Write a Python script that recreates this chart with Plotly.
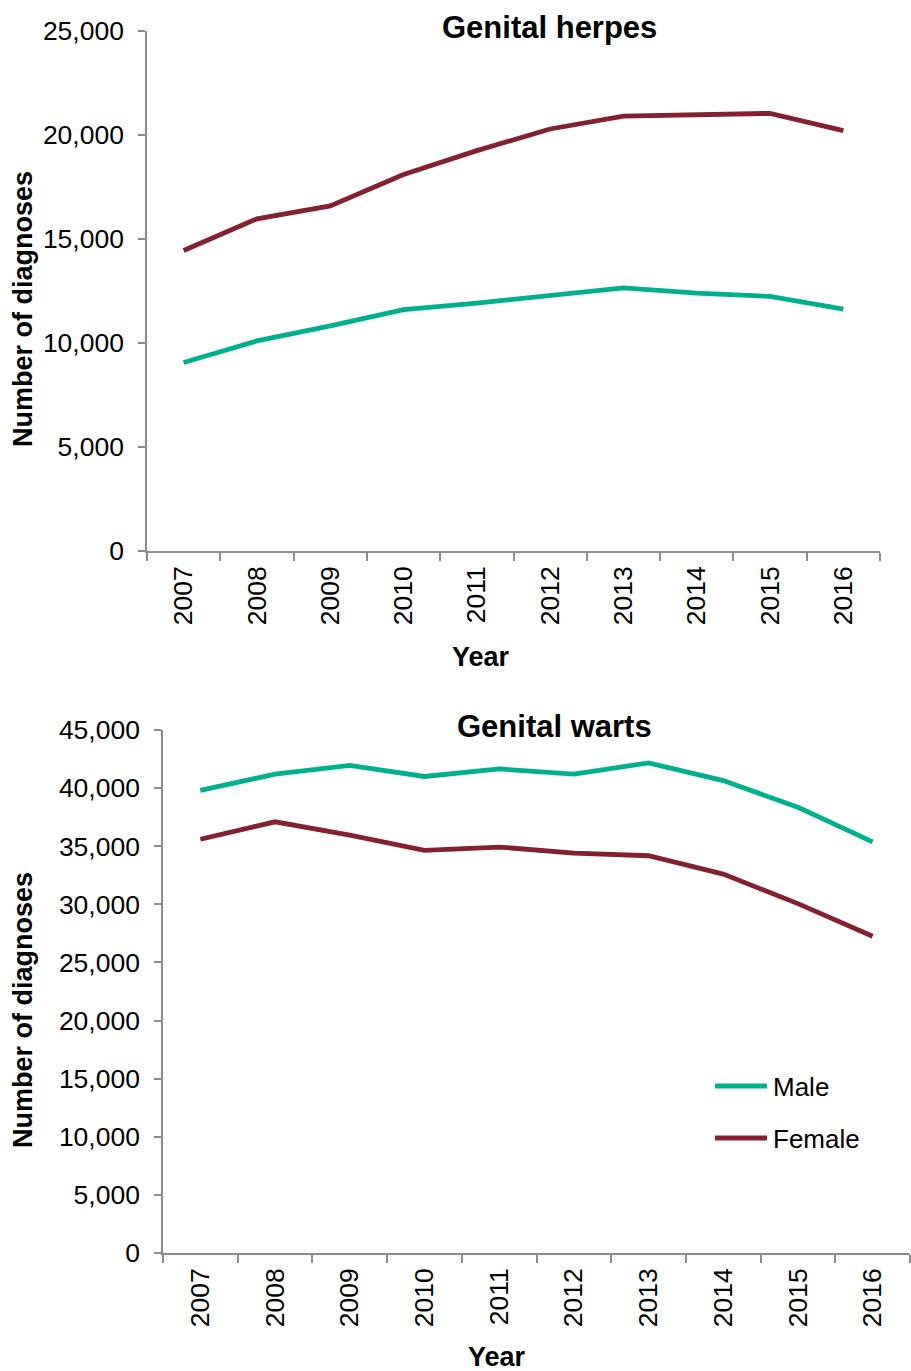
import plotly.graph_objects as go

# Annual diagnoses by sex, 2007-2016
years = ["2007", "2008", "2009", "2010", "2011", "2012", "2013", "2014", "2015", "2016"]

herpes_male = [9060, 10100, 10820, 11600, 11920, 12270, 12650, 12400, 12240, 11630]
herpes_female = [14450, 15970, 16590, 18100, 19250, 20290, 20910, 20970, 21040, 20210]

warts_male = [39800, 41200, 41950, 41000, 41650, 41200, 42170, 40650, 38350, 35370]
warts_female = [35600, 37100, 35950, 34650, 34930, 34400, 34180, 32600, 30060, 27250]

W, H = 911, 1371
MALE_COLOR = "#00AF8D"
FEMALE_COLOR = "#84202F"
AXIS_COLOR = "#8C8C8C"
FONT = "Liberation Sans, Arial, sans-serif"
LINE_W = 4.8

fig = go.Figure()

for ys, color, name, xa, ya in [
    (herpes_male, MALE_COLOR, "Male", "x", "y"),
    (herpes_female, FEMALE_COLOR, "Female", "x", "y"),
    (warts_male, MALE_COLOR, "Male", "x2", "y2"),
    (warts_female, FEMALE_COLOR, "Female", "x2", "y2"),
]:
    fig.add_trace(go.Scatter(x=years, y=ys, mode="lines", name=name,
                             line=dict(color=color, width=LINE_W),
                             xaxis=xa, yaxis=ya, showlegend=False))


def px_x(v):
    return v / W


def px_y(v):
    return 1 - v / H


tick_font = dict(family=FONT, size=26.5, color="#000000")

xaxis_common = dict(
    type="category", range=[-0.5, 9.5], tickson="boundaries",
    ticks="outside", ticklen=8, tickwidth=1.5, tickcolor=AXIS_COLOR,
    showline=True, linecolor=AXIS_COLOR, linewidth=1.5,
    showgrid=False, zeroline=False, tickangle=-90, tickfont=tick_font,
    ticklabelstandoff=3, automargin=False,
)
yaxis_common = dict(
    ticks="outside", ticklen=7, tickwidth=1.5, tickcolor=AXIS_COLOR,
    showline=True, linecolor=AXIS_COLOR, linewidth=1.5,
    showgrid=False, zeroline=False, tickformat=",", dtick=5000,
    tickfont=tick_font, ticklabelstandoff=9, automargin=False,
)

fig.update_layout(
    width=W, height=H,
    margin=dict(l=0, r=0, t=0, b=0),
    paper_bgcolor="white", plot_bgcolor="white",
    font=dict(family=FONT, color="#000000"),
    xaxis=dict(domain=[px_x(147), px_x(880)], anchor="y", **xaxis_common),
    yaxis=dict(domain=[px_y(551), px_y(31)], anchor="x", range=[0, 25000], **yaxis_common),
    xaxis2=dict(domain=[px_x(163), px_x(910)], anchor="y2", **xaxis_common),
    yaxis2=dict(domain=[px_y(1253), px_y(730)], anchor="x2", range=[0, 45000], **yaxis_common),
)

bold = dict(family=FONT, size=27, color="#000000")
title_font = dict(family=FONT, size=31, color="#000000")
legend_font = dict(family=FONT, size=26, color="#000000")

annotations = [
    dict(text="<b>Genital herpes</b>", x=px_x(549), y=px_y(27), font=title_font),
    dict(text="<b>Genital warts</b>", x=px_x(554), y=px_y(726), font=title_font),
    dict(text="<b>Year</b>", x=px_x(481), y=px_y(657), font=bold),
    dict(text="<b>Year</b>", x=px_x(497), y=px_y(1357), font=bold),
    dict(text="<b>Number of diagnoses</b>", x=px_x(23), y=px_y(309), font=bold, textangle=-90),
    dict(text="<b>Number of diagnoses</b>", x=px_x(23), y=px_y(1010), font=bold, textangle=-90),
    dict(text="Male", x=px_x(771), y=px_y(1087), font=legend_font, xanchor="left"),
    dict(text="Female", x=px_x(771), y=px_y(1139), font=legend_font, xanchor="left"),
]
for a in annotations:
    a.setdefault("xanchor", "center")
    a.update(xref="paper", yref="paper", yanchor="middle", showarrow=False)
fig.update_layout(annotations=annotations)

# Legend keys
fig.update_layout(shapes=[
    dict(type="line", xref="paper", yref="paper", x0=px_x(715), x1=px_x(767),
         y0=px_y(1086), y1=px_y(1086), line=dict(color=MALE_COLOR, width=LINE_W)),
    dict(type="line", xref="paper", yref="paper", x0=px_x(715), x1=px_x(767),
         y0=px_y(1138), y1=px_y(1138), line=dict(color=FEMALE_COLOR, width=LINE_W)),
])

fig.write_html("out.html")
